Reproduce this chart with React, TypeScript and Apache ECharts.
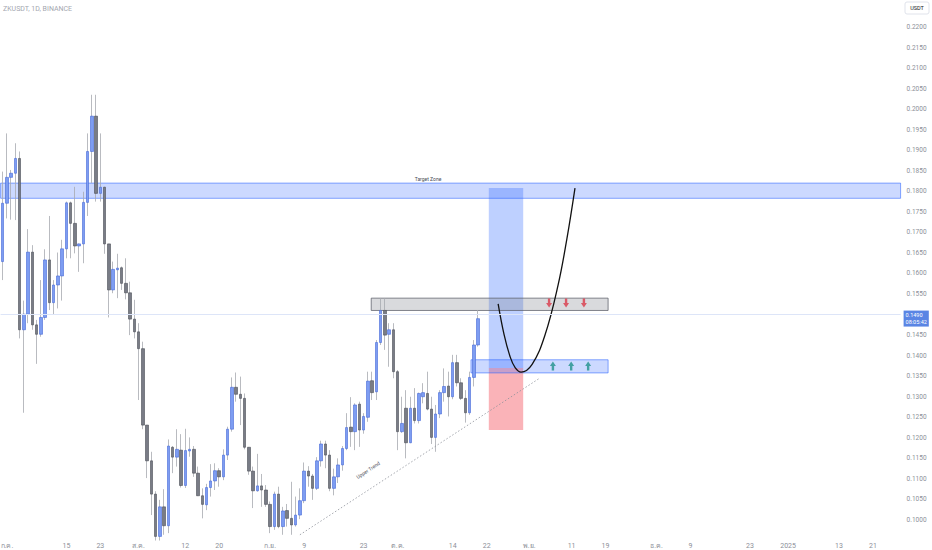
import * as React from "react";
import * as echarts from "echarts";

// daily candles, first one is 2024-06-30; [open, high, low, close]
const firstDate = "2024-06-30";
const ohlc: [number, number, number, number][] = [
  [0.1629, 0.1848, 0.1584, 0.1771], [0.1771, 0.1941, 0.1734, 0.1834], [0.1834, 0.1852, 0.1731, 0.1844],
  [0.1844, 0.1917, 0.1730, 0.1880], [0.1880, 0.1897, 0.1442, 0.1463], [0.1463, 0.1534, 0.1261, 0.1501],
  [0.1501, 0.1708, 0.1479, 0.1652], [0.1652, 0.1669, 0.1463, 0.1475], [0.1475, 0.1487, 0.1380, 0.1452],
  [0.1452, 0.1584, 0.1446, 0.1493], [0.1493, 0.1659, 0.1487, 0.1633], [0.1633, 0.1740, 0.1511, 0.1529],
  [0.1529, 0.1584, 0.1501, 0.1572], [0.1572, 0.1651, 0.1515, 0.1594], [0.1594, 0.1682, 0.1534, 0.1660],
  [0.1660, 0.1775, 0.1637, 0.1772], [0.1772, 0.1775, 0.1637, 0.1722], [0.1722, 0.1811, 0.1649, 0.1667],
  [0.1667, 0.1673, 0.1604, 0.1672], [0.1672, 0.1799, 0.1625, 0.1773], [0.1773, 0.1941, 0.1740, 0.1897],
  [0.1897, 0.2035, 0.1820, 0.1983], [0.1983, 0.2035, 0.1775, 0.1795], [0.1795, 0.1941, 0.1775, 0.1810],
  [0.1810, 0.1811, 0.1648, 0.1672], [0.1672, 0.1672, 0.1493, 0.1560], [0.1560, 0.1629, 0.1552, 0.1610],
  [0.1609, 0.1648, 0.1540, 0.1613], [0.1614, 0.1617, 0.1560, 0.1576], [0.1576, 0.1637, 0.1537, 0.1553],
  [0.1553, 0.1580, 0.1450, 0.1489], [0.1489, 0.1536, 0.1442, 0.1458], [0.1458, 0.1479, 0.1292, 0.1417],
  [0.1417, 0.1434, 0.1221, 0.1231], [0.1231, 0.1231, 0.1102, 0.1144], [0.1144, 0.1166, 0.1012, 0.1063],
  [0.1063, 0.1070, 0.0950, 0.0960], [0.0960, 0.1049, 0.0950, 0.1032], [0.1032, 0.1075, 0.0964, 0.0986],
  [0.0986, 0.1196, 0.0968, 0.1180], [0.1177, 0.1180, 0.1114, 0.1153], [0.1153, 0.1221, 0.1130, 0.1172],
  [0.1170, 0.1209, 0.1079, 0.1084], [0.1084, 0.1222, 0.1078, 0.1169], [0.1168, 0.1201, 0.1154, 0.1172],
  [0.1172, 0.1180, 0.1105, 0.1114], [0.1114, 0.1130, 0.1059, 0.1059], [0.1059, 0.1077, 0.1004, 0.1038],
  [0.1037, 0.1088, 0.1024, 0.1079], [0.1079, 0.1136, 0.1057, 0.1095], [0.1095, 0.1138, 0.1073, 0.1120],
  [0.1120, 0.1126, 0.1081, 0.1105], [0.1105, 0.1172, 0.1097, 0.1158], [0.1158, 0.1227, 0.1146, 0.1221],
  [0.1221, 0.1347, 0.1215, 0.1323], [0.1323, 0.1359, 0.1288, 0.1306], [0.1306, 0.1349, 0.1231, 0.1296],
  [0.1296, 0.1308, 0.1172, 0.1177], [0.1177, 0.1177, 0.1110, 0.1119], [0.1119, 0.1130, 0.1029, 0.1071],
  [0.1071, 0.1161, 0.1069, 0.1083], [0.1083, 0.1112, 0.1032, 0.1073], [0.1073, 0.1085, 0.1032, 0.1038],
  [0.1038, 0.1045, 0.0968, 0.0984], [0.0984, 0.1069, 0.0976, 0.1063], [0.1063, 0.1081, 0.0980, 0.0984],
  [0.0984, 0.1032, 0.0964, 0.1022], [0.1023, 0.1039, 0.0984, 0.1004], [0.1004, 0.1093, 0.0964, 0.0988],
  [0.0988, 0.1057, 0.0984, 0.1012], [0.1012, 0.1077, 0.1002, 0.1047], [0.1047, 0.1140, 0.1041, 0.1119],
  [0.1119, 0.1131, 0.1081, 0.1107], [0.1107, 0.1112, 0.1049, 0.1077], [0.1077, 0.1153, 0.1073, 0.1144],
  [0.1144, 0.1193, 0.1130, 0.1185], [0.1185, 0.1193, 0.1126, 0.1158], [0.1158, 0.1170, 0.1070, 0.1077],
  [0.1077, 0.1125, 0.1060, 0.1105], [0.1105, 0.1150, 0.1090, 0.1134], [0.1134, 0.1180, 0.1120, 0.1174],
  [0.1174, 0.1260, 0.1170, 0.1225], [0.1226, 0.1299, 0.1178, 0.1215], [0.1215, 0.1284, 0.1170, 0.1280],
  [0.1282, 0.1288, 0.1178, 0.1219], [0.1219, 0.1260, 0.1210, 0.1252], [0.1250, 0.1361, 0.1239, 0.1338],
  [0.1339, 0.1361, 0.1292, 0.1310], [0.1312, 0.1438, 0.1292, 0.1432], [0.1432, 0.1540, 0.1426, 0.1510],
  [0.1510, 0.1540, 0.1414, 0.1450], [0.1452, 0.1479, 0.1373, 0.1463], [0.1463, 0.1479, 0.1345, 0.1361],
  [0.1361, 0.1365, 0.1170, 0.1215], [0.1215, 0.1300, 0.1212, 0.1235], [0.1272, 0.1316, 0.1150, 0.1188],
  [0.1188, 0.1300, 0.1187, 0.1272], [0.1272, 0.1321, 0.1235, 0.1242], [0.1242, 0.1310, 0.1235, 0.1308],
  [0.1300, 0.1333, 0.1284, 0.1310], [0.1308, 0.1361, 0.1267, 0.1270], [0.1270, 0.1300, 0.1185, 0.1201],
  [0.1201, 0.1280, 0.1166, 0.1258], [0.1258, 0.1316, 0.1248, 0.1310], [0.1310, 0.1369, 0.1288, 0.1325],
  [0.1326, 0.1361, 0.1252, 0.1300], [0.1300, 0.1402, 0.1294, 0.1383], [0.1383, 0.1402, 0.1325, 0.1334],
  [0.1334, 0.1345, 0.1292, 0.1296], [0.1296, 0.1316, 0.1237, 0.1261], [0.1261, 0.1361, 0.1256, 0.1347],
  [0.1347, 0.1438, 0.1325, 0.1426], [0.1426, 0.1511, 0.1422, 0.1490],
];

const totalDays = 212; // visible time range incl. empty future space
const tickDates = [
  "2024-07-01", "2024-07-15", "2024-07-23", "2024-08-01", "2024-08-12", "2024-08-20", "2024-09-01",
  "2024-09-09", "2024-09-23", "2024-10-01", "2024-10-14", "2024-10-22", "2024-11-01", "2024-11-11",
  "2024-11-19", "2024-12-01", "2024-12-09", "2024-12-23", "2025-01-01", "2025-01-13", "2025-01-21",
];
const tickTexts = [
  "ก.ค.", "15", "23", "ส.ค.", "12", "20", "ก.ย.", "9", "23", "ต.ค.", "14", "22", "พ.ย.", "11", "19",
  "ธ.ค.", "9", "23", "2025", "13", "21",
];
const priceTicks = [
  0.1, 0.105, 0.11, 0.115, 0.12, 0.125, 0.13, 0.135, 0.14, 0.145, 0.15, 0.155, 0.16, 0.165, 0.17,
  0.175, 0.18, 0.185, 0.19, 0.195, 0.2, 0.205, 0.21, 0.215, 0.22,
];
const priceMin = 0.09586;
const priceMax = 0.22657;

// drawings, x in days from 2024-06-30 (= day -1 -> index 0), y in price
const targetZone = [0.1783, 0.182];
const resistanceDays = [86.8, 142.6];
const resistancePrices = [0.151, 0.154];
const supportDays = [110.3, 142.6];
const supportPrices = [0.1358, 0.139];
const positionDays = [114.5, 122.6];
const positionTarget = [0.137, 0.1808];
const positionStop = [0.1219, 0.137];
const curveDays = [116.7, 118.1, 119.5, 120.7, 122.1, 124.7, 127.7, 130.8, 132.9, 134.8];
const curvePrices = [0.1526, 0.1451, 0.1398, 0.1371, 0.136, 0.1379, 0.1449, 0.1571, 0.1685, 0.1808];
const trendDays = [70.0, 126.6];
const trendPrices = [0.0964, 0.1346];
const downArrowDays = [128.7, 132.7, 136.9];
const downArrowPrice = 0.1528;
const upArrowDays = [129.6, 133.9, 137.9];
const upArrowPrice = 0.1375;

const FONT = "Roboto, 'Noto Sans', sans-serif";

function dayList(start: string, n: number): string[] {
  const t0 = Date.parse(start + "T00:00:00Z");
  const out: string[] = [];
  for (let i = 0; i < n; i++) out.push(new Date(t0 + i * 86400000).toISOString().slice(0, 10));
  return out;
}

export default function App() {
  const ref = React.useRef<HTMLDivElement>(null);
  React.useEffect(() => {
    if (!ref.current) return;
    const chart = echarts.init(ref.current, undefined, { renderer: "svg" });
    const dates = dayList(firstDate, totalDays);
    const wicks = ohlc.map(([o, h, l, c]) => [o, c, l, h]);
    const bodies = ohlc.map(([o, , , c]) => [o, c, Math.min(o, c), Math.max(o, c)]);
    const last = ohlc[ohlc.length - 1][3];
    const box = (days: number[], prices: number[], fill: string, stroke: string) => [
      { xAxis: days[0], yAxis: prices[0], itemStyle: { color: fill, borderColor: stroke, borderWidth: 1 } },
      { xAxis: days[1], yAxis: prices[1] },
    ];
    const arrow = "path://M3,0 L7,0 L7,6 L10,6 L5,12 L0,6 L3,6 Z";
    const upArrow = "path://M3,12 L7,12 L7,6 L10,6 L5,0 L0,6 L3,6 Z";

    chart.setOption({
      animation: false,
      backgroundColor: "#ffffff",
      textStyle: { fontFamily: FONT },
      grid: { left: 0.6, top: 0, width: 900, height: 537, outerBoundsMode: "none" },
      xAxis: [
        {
          type: "category",
          data: dates,
          axisLine: { show: false },
          axisTick: { show: false },
          splitLine: { show: false },
          axisLabel: {
            interval: (_i: number, v: string) => tickDates.includes(v),
            formatter: (v: string) => tickTexts[tickDates.indexOf(v)] ?? "",
            fontSize: 7,
            color: "#8c8f98",
            margin: 5,
            fontFamily: FONT,
          },
        },
        { type: "value", min: -0.5, max: totalDays - 0.5, show: false },
      ],
      yAxis: {
        type: "value",
        position: "right",
        min: priceMin,
        max: priceMax,
        axisLine: { show: false },
        axisTick: { show: false },
        splitLine: { show: false },
        axisLabel: {
          customValues: priceTicks,
          formatter: (v: number) => v.toFixed(4),
          fontSize: 6.5,
          color: "#8c8f98",
          margin: 6,
          fontFamily: FONT,
        },
      },
      series: [
        {
          type: "line",
          xAxisIndex: 1,
          data: [],
          markArea: {
            silent: true,
            data: [
              [
                { xAxis: "min", yAxis: targetZone[0], itemStyle: { color: "rgba(41,98,255,0.24)", borderColor: "rgba(41,98,255,0.55)", borderWidth: 1 } },
                { xAxis: "max", yAxis: targetZone[1] },
              ],
              box(positionDays, positionTarget, "rgba(41,98,255,0.3)", "rgba(41,98,255,0)"),
              box(positionDays, positionStop, "rgba(242,54,69,0.38)", "rgba(242,54,69,0)"),
              box(resistanceDays, resistancePrices, "rgba(120,123,134,0.28)", "rgba(90,93,104,0.75)"),
              box(supportDays, supportPrices, "rgba(41,98,255,0.24)", "rgba(41,98,255,0.55)"),
            ],
          },
        },
        {
          type: "candlestick",
          name: "wick",
          barWidth: 1,
          data: wicks,
          itemStyle: { color: "#a7a9b0", color0: "#a7a9b0", borderColor: "#a7a9b0", borderColor0: "#a7a9b0", borderWidth: 0.8 },
        },
        {
          type: "candlestick",
          name: "ZKUSDT",
          barWidth: 3,
          data: bodies,
          itemStyle: { color: "#7d9df2", color0: "#797c86", borderColor: "#4468d6", borderColor0: "#4a4d56", borderWidth: 0.6 },
          markLine: {
            silent: true,
            symbol: "none",
            data: [{ yAxis: last }],
            lineStyle: { color: "#dde5f8", type: "solid", width: 1 },
            label: {
              position: "end",
              distance: 3,
              offset: [0, 4],
              formatter: () => last.toFixed(4) + "\n08:05:42",
              backgroundColor: "#5a85e4",
              color: "#ffffff",
              fontSize: 5.5,
              lineHeight: 7,
              padding: [1, 2],
              fontFamily: FONT,
            },
          },
        },
        {
          type: "line",
          xAxisIndex: 1,
          data: trendDays.map((d, i) => [d, trendPrices[i]]),
          symbol: "none",
          lineStyle: { color: "#8d9099", width: 0.8, type: [1.5, 2] },
        },
        {
          type: "line",
          xAxisIndex: 1,
          data: curveDays.map((d, i) => [d, curvePrices[i]]),
          symbol: "none",
          smooth: 0.4,
          lineStyle: { color: "#111111", width: 1.3 },
        },
        {
          type: "scatter",
          xAxisIndex: 1,
          data: downArrowDays.map((d) => [d, downArrowPrice]),
          symbol: arrow,
          symbolSize: [6, 9],
          itemStyle: { color: "#d9394a" },
        },
        {
          type: "scatter",
          xAxisIndex: 1,
          data: upArrowDays.map((d) => [d, upArrowPrice]),
          symbol: upArrow,
          symbolSize: [6, 9],
          itemStyle: { color: "#21918b" },
        },
      ],
      graphic: [
        { type: "text", left: 3, top: 5, style: { text: "ZKUSDT, 1D, BINANCE", fontSize: 7, fill: "#a3a6af", fontFamily: FONT } },
        { type: "rect", shape: { x: 905, y: 2, width: 24, height: 12, r: 2 }, style: { fill: "#ffffff", stroke: "#e0e3eb", lineWidth: 1 } },
        { type: "text", x: 917, y: 8, style: { text: "USDT", fontSize: 5.5, fill: "#131722", align: "center", verticalAlign: "middle", fontFamily: FONT } },
        { type: "text", x: 428, y: 179, style: { text: "Target Zone", fontSize: 5, fill: "#4a4d56", align: "center", verticalAlign: "middle", fontFamily: FONT } },
        { type: "text", x: 368, y: 470, rotation: 0.58, style: { text: "Upper Trend", fontSize: 5, fill: "#4a4d56", align: "center", verticalAlign: "middle", fontFamily: FONT } },
      ],
    });
    return () => chart.dispose();
  }, []);
  return (
    <div
      ref={ref}
      style={{ position: "fixed", left: 0, top: 0, width: 932, height: 550, background: "#fff" }}
    />
  );
}
